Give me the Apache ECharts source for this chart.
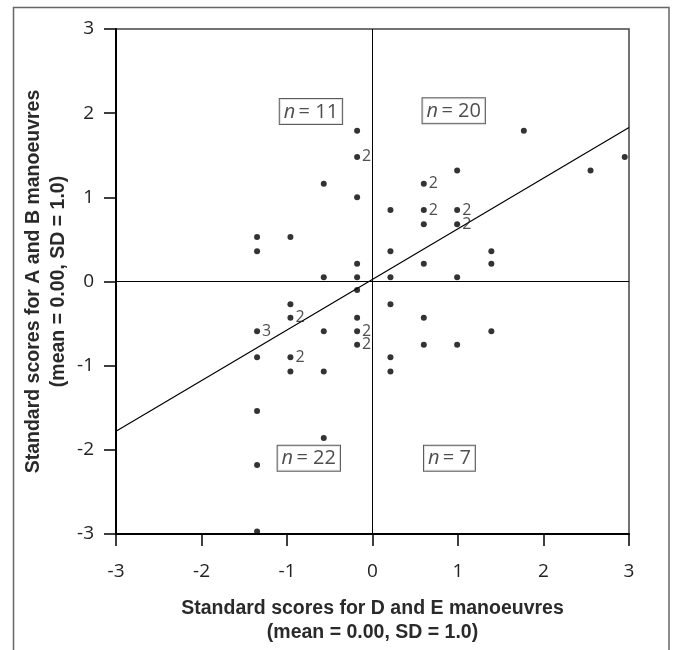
<!DOCTYPE html>
<html>
<head>
<meta charset="utf-8">
<script src="https://cdn.jsdelivr.net/npm/echarts@6/dist/echarts.min.js"></script>
<style>
html,body{margin:0;padding:0;background:#fff;}
#chart{width:673px;height:650px;}
</style>
</head>
<body>
<div id="chart"></div>
<script>
// D and E standard scores (x), A and B standard scores (y), count of coincident cases
const xScores = [
  -0.18,-0.18,-0.57,-0.18,-1.35,-0.96,-1.35,-0.18,-0.57,-0.18,
  1.77,2.95,2.55,0.99,0.60,0.21,0.60,0.99,0.60,0.99,0.21,1.39,0.60,1.39,0.21,0.99,
  -0.18,-0.96,-0.96,-1.35,-0.57,-0.18,-0.18,-0.18,-1.35,-0.96,-0.96,-0.57,-1.35,-0.57,-1.35,-1.35,
  0.21,0.60,1.39,0.60,0.99,0.21,0.21
];
const yScores = [
  1.79,1.48,1.16,1.00,0.53,0.53,0.36,0.21,0.05,0.05,
  1.79,1.48,1.32,1.32,1.16,0.85,0.85,0.85,0.68,0.68,0.36,0.36,0.21,0.21,0.05,0.05,
  -0.10,-0.27,-0.43,-0.59,-0.59,-0.43,-0.59,-0.75,-0.90,-0.90,-1.07,-1.07,-1.54,-1.86,-2.18,-2.97,
  -0.27,-0.43,-0.59,-0.75,-0.75,-0.90,-1.07
];
const caseCounts = [
  1,2,1,1,1,1,1,1,1,1,
  1,1,1,1,2,1,2,2,1,2,1,1,1,1,1,1,
  1,1,2,3,1,1,2,2,1,2,1,1,1,1,1,1,
  1,1,1,1,1,1,1
];
// Regression line endpoints
const fitX = [-3, 3];
const fitY = [-1.78, 1.83];
// Quadrant counts
const quadLabels = ['11', '20', '22', '7'];
const quadX = [-0.72, 0.95, -0.745, 0.90];
const quadY = [2.02, 2.03, -2.10, -2.10];
const ticks = [-3, -2, -1, 0, 1, 2, 3];

const xTitle = 'Standard scores for D and E manoeuvres\n(mean = 0.00, SD = 1.0)';
const yTitle = 'Standard scores for A and B manoeuvres\n(mean = 0.00, SD = 1.0)';

const titleFont = 'Liberation Sans';
const tickFont = 'Open Sans';

const chart = echarts.init(document.getElementById('chart'), null, {renderer: 'canvas'});

const pts = xScores.map((x, i) => ({value: [x, yScores[i]], count: caseCounts[i]}));

chart.setOption({
  animation: false,
  backgroundColor: '#fff',
  graphic: [{
    type: 'polyline',
    shape: {points: [[13.5, 660], [13.5, 7.5], [669, 7.5], [669, 660]]},
    style: {stroke: '#666', lineWidth: 1.5, fill: null},
    z: 0
  }],
  grid: {left: 116, right: 44, top: 29, bottom: 110, show: true, borderColor: '#444', borderWidth: 1.5},
  xAxis: {
    type: 'value', min: -3, max: 3, interval: 1,
    axisLine: {show: true, onZero: false, lineStyle: {color: '#000', width: 2}},
    axisTick: {show: true, length: 12, lineStyle: {color: '#000', width: 1.5}},
    axisLabel: {margin: 28, fontFamily: tickFont, fontSize: 19, color: '#222',
      formatter: v => ticks.includes(v) ? String(v) : ''},
    splitLine: {show: false},
    name: xTitle, nameLocation: 'middle', nameGap: 63, nameMoveOverlap: false,
    nameTextStyle: {fontFamily: titleFont, fontWeight: 'bold', fontSize: 19.5, color: '#2a2a2a', lineHeight: 24}
  },
  yAxis: {
    type: 'value', min: -3, max: 3, interval: 1,
    axisLine: {show: true, onZero: false, lineStyle: {color: '#000', width: 2}},
    axisTick: {show: true, length: 12, lineStyle: {color: '#000', width: 1.5}},
    axisLabel: {margin: 22, fontFamily: tickFont, fontSize: 19, color: '#222',
      formatter: v => ticks.includes(v) ? String(v) : ''},
    splitLine: {show: false},
    name: yTitle, nameLocation: 'middle', nameGap: 45, nameRotate: 90, nameMoveOverlap: false,
    nameTextStyle: {fontFamily: titleFont, fontWeight: 'bold', fontSize: 19.5, color: '#2a2a2a', lineHeight: 25}
  },
  series: [
    {
      type: 'line',
      data: fitX.map((x, i) => [x, fitY[i]]),
      symbol: 'none',
      lineStyle: {color: '#000', width: 1.2},
      z: 2,
      markLine: {
        silent: true, symbol: 'none', label: {show: false},
        lineStyle: {color: '#000', width: 1, type: 'solid'},
        data: [{xAxis: 0}, {yAxis: 0}]
      }
    },
    {
      type: 'scatter',
      data: pts,
      symbol: 'circle',
      symbolSize: 6,
      itemStyle: {color: '#000'},
      z: 3,
      label: {
        show: true, position: 'right', distance: 2,
        fontFamily: tickFont, fontSize: 16, color: '#222',
        formatter: p => p.data.count > 1 ? String(p.data.count) : ''
      }
    },
    {
      type: 'scatter',
      data: quadX.map((x, i) => ({value: [x, quadY[i]], name: quadLabels[i]})),
      symbolSize: 0,
      z: 4,
      label: {
        show: true, position: 'inside',
        backgroundColor: '#fff', borderColor: '#333', borderWidth: 1,
        padding: [3, 4, 2, 4],
        formatter: p => '{i|n} {t|= ' + p.name + '}',
        rich: {
          i: {fontFamily: tickFont, fontStyle: 'italic', fontSize: 20, color: '#222'},
          t: {fontFamily: tickFont, fontSize: 20, color: '#222'}
        }
      }
    }
  ]
});
</script>
</body>
</html>
